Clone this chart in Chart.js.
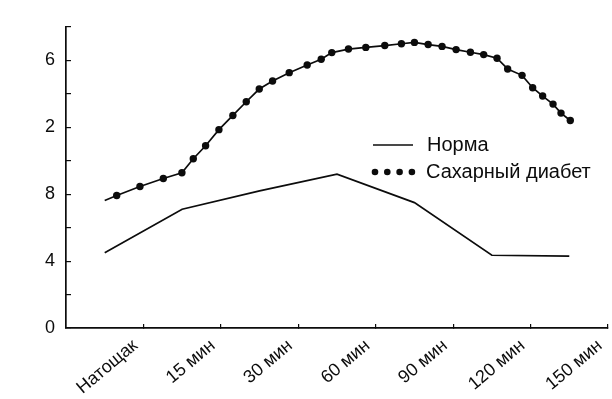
<!DOCTYPE html>
<html>
<head>
<meta charset="utf-8">
<script src="https://cdn.jsdelivr.net/npm/chart.js@4.4.1/dist/chart.umd.min.js"></script>
<style>
  html, body { margin: 0; padding: 0; background: #fff; }
  #wrap { width: 612px; height: 399px; }
</style>
</head>
<body>
<div id="wrap"><canvas id="myChart"></canvas></div>
<script>
/* ~~~~~~~~~~ DATA ~~~~~~~~~~*/

const categories = ['Натощак', '15 мин', '30 мин', '60 мин', '90 мин', '120 мин', '150 мин'];

// y tick labels as printed (the leading "1" of 12 and 16 is lost in the original)
const yTickValues = [0, 4, 8, 12, 16];
const yTickLabels = ['0', '4', '8', '2', '6'];

// normal glucose curve, one value per category
const normaValues = [4.5, 7.1, 8.2, 9.2, 7.5, 4.35, 4.3];

// diabetes curve, sampled densely (x = category index)
const diabetesX = [0, 0.155, 0.455, 0.757, 0.997, 1.144, 1.303, 1.475, 1.655, 1.828, 1.996,
  2.168, 2.383, 2.615, 2.796, 2.933, 3.148, 3.372, 3.617, 3.832, 4.0, 4.177, 4.357,
  4.538, 4.723, 4.894, 5.067, 5.204, 5.39, 5.527, 5.656, 5.79, 5.893, 6.013];
const diabetesY = [7.62, 7.92, 8.46, 8.94, 9.28, 10.12, 10.9, 11.86, 12.71, 13.53, 14.29,
  14.77, 15.27, 15.73, 16.07, 16.47, 16.68, 16.78, 16.89, 17.0, 17.08, 16.95, 16.84,
  16.65, 16.49, 16.35, 16.13, 15.49, 15.11, 14.37, 13.87, 13.39, 12.85, 12.41];

const legendLabels = ['Норма', 'Сахарный диабет'];

/* ~~~~~~~~~~ CHART ~~~~~~~~~~*/

const ink = '#0c0c0c';
const fontFamily = '"Liberation Sans", Arial, sans-serif';

// draws the little legend to the right of the peak
const legendPlugin = {
  id: 'printLegend',
  afterDatasetsDraw(chart) {
    const ctx = chart.ctx;
    const area = chart.chartArea;
    const x0 = area.left + 307;
    const y0 = area.top + 118;
    ctx.save();
    ctx.strokeStyle = ink;
    ctx.fillStyle = ink;
    ctx.lineWidth = 1.5;
    ctx.beginPath();
    ctx.moveTo(x0, y0);
    ctx.lineTo(x0 + 40, y0);
    ctx.stroke();
    for (let i = 0; i < 4; i++) {
      ctx.beginPath();
      ctx.arc(x0 + 2 + i * 12.3, y0 + 27, 3.3, 0, Math.PI * 2);
      ctx.fill();
    }
    ctx.font = '20px ' + fontFamily;
    ctx.textBaseline = 'middle';
    ctx.fillText(legendLabels[0], x0 + 54, y0);
    ctx.fillText(legendLabels[1], x0 + 53, y0 + 27);
    ctx.restore();
  }
};

const ctx = document.getElementById('myChart').getContext('2d');

const chart = new Chart(ctx, {
  type: 'line',
  data: {
    datasets: [
      {
        label: legendLabels[0],
        data: normaValues.map((v, i) => ({ x: i, y: v })),
        borderColor: ink,
        borderWidth: 1.7,
        pointRadius: 0,
        tension: 0,
      },
      {
        label: legendLabels[1],
        data: diabetesY.map((v, i) => ({ x: diabetesX[i], y: v })),
        borderColor: ink,
        backgroundColor: ink,
        borderWidth: 1.7,
        pointRadius: diabetesY.map((v, i) => (i === 0 ? 0 : 3.7)),
        pointBorderWidth: 0,
        tension: 0,
      },
    ],
  },
  options: {
    responsive: true,
    maintainAspectRatio: false,
    animation: false,
    layout: { padding: { top: 27, right: 4, left: 0, bottom: 0 } },
    plugins: {
      legend: { display: false },
      tooltip: { enabled: false },
    },
    scales: {
      x: {
        type: 'linear',
        min: -0.5,
        max: 6.5,
        afterBuildTicks: (scale) => {
          scale.ticks = categories.map((c, i) => ({ value: i + 0.5 }));
        },
        afterFit: (scale) => {
          scale.height = 71;
          scale.paddingLeft = 0;
          scale.paddingRight = 0;
        },
        border: { color: ink, width: 1.7 },
        grid: { drawOnChartArea: false, tickLength: -4, color: ink, lineWidth: 1.2 },
        ticks: {
          autoSkip: false,
          maxRotation: 40,
          minRotation: 40,
          padding: 11,
          labelOffset: -8,
          color: ink,
          font: { family: fontFamily, size: 18 },
          callback: (value, index) => categories[index],
        },
      },
      y: {
        min: 0,
        max: 18,
        afterFit: (scale) => {
          scale.width = 66;
          scale.paddingTop = 0;
          scale.paddingBottom = 0;
        },
        border: { color: ink, width: 1.7 },
        grid: { drawOnChartArea: false, tickLength: -5, color: ink, lineWidth: 1.2 },
        ticks: {
          stepSize: 2,
          autoSkip: false,
          padding: 16,
          color: ink,
          font: { family: fontFamily, size: 18 },
          callback: (value) => {
            const k = yTickValues.indexOf(value);
            return k >= 0 ? yTickLabels[k] : '';
          },
        },
      },
    },
  },
  plugins: [legendPlugin],
});
</script>
</body>
</html>
